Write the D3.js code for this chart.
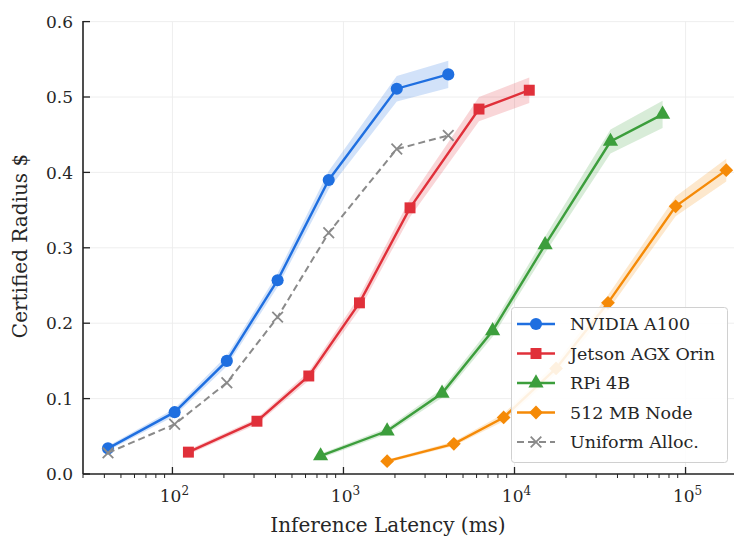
<!DOCTYPE html>
<html>
<head>
<meta charset="utf-8">
<script src="https://cdn.jsdelivr.net/npm/d3@7"></script>
<style>
  body { margin: 0; background: #fff; }
  svg text { font-family: "DejaVu Serif", serif; fill: #262626; }
</style>
</head>
<body>
<svg id="chart" width="734" height="537"></svg>
<script>
// values
const seriesNames = ["NVIDIA A100", "Jetson AGX Orin", "RPi 4B", "512 MB Node", "Uniform Alloc."];

const a100Lat = [42, 103, 208, 412, 820, 2050, 4100];
const a100Rad = [0.034, 0.082, 0.150, 0.257, 0.390, 0.511, 0.530];
const a100Err = [0.003, 0.005, 0.007, 0.009, 0.012, 0.017, 0.018];

const orinLat = [124, 312, 627, 1240, 2450, 6200, 12200];
const orinRad = [0.029, 0.070, 0.130, 0.227, 0.353, 0.484, 0.509];
const orinErr = [0.003, 0.004, 0.006, 0.009, 0.012, 0.016, 0.017];

const rpiLat = [735, 1800, 3770, 7450, 15100, 36400, 73400];
const rpiRad = [0.024, 0.057, 0.107, 0.190, 0.304, 0.441, 0.477];
const rpiErr = [0.003, 0.004, 0.006, 0.008, 0.011, 0.016, 0.018];

const nodeLat = [1800, 4420, 8640, 17500, 35200, 87500, 173000];
const nodeRad = [0.017, 0.040, 0.075, 0.140, 0.227, 0.355, 0.403];
const nodeErr = [0.002, 0.003, 0.005, 0.007, 0.010, 0.013, 0.015];

const uniLat = [42, 103, 208, 412, 820, 2050, 4100];
const uniRad = [0.028, 0.066, 0.121, 0.208, 0.320, 0.431, 0.449];

const yTicks = [0.0, 0.1, 0.2, 0.3, 0.4, 0.5, 0.6];
const xTicks = [1e2, 1e3, 1e4, 1e5];

const W = 734, H = 537;
const mLeft = 83, mRight = 734, mTop = 21.6, mBottom = 474;

const x = d3.scaleLog().domain([30, 192000]).range([mLeft, mRight]);
const y = d3.scaleLinear().domain([0, 0.6]).range([mBottom, mTop]);

const svg = d3.select("#chart");

const styles = [
  { color: "#1f6fe0", symbol: d3.symbolCircle, size: 115, rot: 0 },
  { color: "#e0303a", symbol: d3.symbolSquare, size: 120, rot: 0 },
  { color: "#3c9e3c", symbol: d3.symbolTriangle, size: 100, rot: 0 },
  { color: "#f58a07", symbol: d3.symbolSquare, size: 95, rot: 45 },
  { color: "#8a8a8a", symbol: d3.symbolX || d3.symbolCross, size: 75, rot: 0, dashed: true }
];

const series = [
  { lat: a100Lat, rad: a100Rad, err: a100Err },
  { lat: orinLat, rad: orinRad, err: orinErr },
  { lat: rpiLat, rad: rpiRad, err: rpiErr },
  { lat: nodeLat, rad: nodeRad, err: nodeErr },
  { lat: uniLat, rad: uniRad, err: null }
];

// grid
const grid = svg.append("g").attr("stroke", "#ececec").attr("stroke-width", 0.9);
grid.selectAll(".gy").data(yTicks.slice(1)).enter().append("line")
  .attr("x1", mLeft).attr("x2", mRight)
  .attr("y1", d => y(d)).attr("y2", d => y(d));
grid.selectAll(".gx").data(xTicks).enter().append("line")
  .attr("x1", d => x(d)).attr("x2", d => x(d))
  .attr("y1", mTop).attr("y2", mBottom);

// bands, lines, markers
function drawMarker(sel, st, px, py) {
  const p = sel.append("path")
    .attr("d", d3.symbol().type(st.symbol).size(st.size)())
    .attr("transform", `translate(${px},${py}) rotate(${st.rot})`);
  if (st.dashed) {
    p.attr("fill", "none").attr("stroke", st.color).attr("stroke-width", 1.8);
  } else {
    p.attr("fill", st.color);
  }
}

series.forEach((s, i) => {
  const st = styles[i];
  const pts = s.lat.map((v, j) => ({ x: v, y: s.rad[j], e: s.err ? s.err[j] : 0 }));
  if (s.err) {
    svg.append("path")
      .datum(pts)
      .attr("fill", st.color)
      .attr("fill-opacity", 0.2)
      .attr("d", d3.area().x(d => x(d.x)).y0(d => y(d.y - d.e)).y1(d => y(d.y + d.e)));
  }
  svg.append("path")
    .datum(pts)
    .attr("fill", "none")
    .attr("stroke", st.color)
    .attr("stroke-width", st.dashed ? 2 : 2.4)
    .attr("stroke-dasharray", st.dashed ? "7,4" : null)
    .attr("d", d3.line().x(d => x(d.x)).y(d => y(d.y)));
  const g = svg.append("g");
  pts.forEach(d => drawMarker(g, st, x(d.x), y(d.y)));
});

// axes
const ax = svg.append("g").attr("stroke", "#222");
ax.append("line").attr("x1", mLeft).attr("x2", mLeft).attr("y1", mTop - 0.5).attr("y2", mBottom).attr("stroke-width", 1.6);
ax.append("line").attr("x1", mLeft).attr("x2", mRight).attr("y1", mBottom).attr("y2", mBottom).attr("stroke-width", 1.6);

yTicks.forEach(t => {
  ax.append("line").attr("x1", mLeft).attr("x2", mLeft + 7).attr("y1", y(t)).attr("y2", y(t)).attr("stroke-width", 1.3);
  svg.append("text").attr("x", mLeft - 10).attr("y", y(t)).attr("dy", "0.36em")
    .attr("text-anchor", "end").style("font-size", "17px").text(t.toFixed(1));
});

const minor = [];
for (let e = 1; e <= 5; e++) for (let m = 2; m <= 9; m++) {
  const v = m * Math.pow(10, e);
  if (v >= 30 && v <= 192000) minor.push(v);
}
minor.forEach(t => {
  ax.append("line").attr("x1", x(t)).attr("x2", x(t)).attr("y1", mBottom).attr("y2", mBottom + 4).attr("stroke-width", 1);
});
xTicks.forEach(t => {
  ax.append("line").attr("x1", x(t)).attr("x2", x(t)).attr("y1", mBottom).attr("y2", mBottom - 7).attr("stroke-width", 1.3);
  const tx = svg.append("text").attr("x", x(t) + 2).attr("y", 502)
    .attr("text-anchor", "middle").style("font-size", "17px");
  tx.append("tspan").text("10");
  tx.append("tspan").attr("dy", -7).style("font-size", "12px").text(Math.round(Math.log10(t)));
});

svg.append("text").attr("x", 388).attr("y", 532).attr("text-anchor", "middle")
  .style("font-size", "20px").text("Inference Latency (ms)");
svg.append("text").attr("transform", "translate(27,246) rotate(-90)").attr("text-anchor", "middle")
  .style("font-size", "20px").text("Certified Radius $");

// legend
const lg = svg.append("g");
lg.append("rect").attr("x", 511.5).attr("y", 307.5).attr("width", 216).attr("height", 155)
  .attr("rx", 3).attr("fill", "#fff").attr("fill-opacity", 0.88)
  .attr("stroke", "#d0d0d0").attr("stroke-width", 1);
seriesNames.forEach((name, i) => {
  const st = styles[i];
  const ly = 324 + i * 29.5;
  lg.append("line").attr("x1", 517).attr("x2", 555).attr("y1", ly).attr("y2", ly)
    .attr("stroke", st.color).attr("stroke-width", st.dashed ? 2 : 2.4)
    .attr("stroke-dasharray", st.dashed ? "7,4" : null);
  drawMarker(lg, st, 536, ly);
  lg.append("text").attr("x", 570).attr("y", ly).attr("dy", "0.36em")
    .style("font-size", "17.5px").text(name);
});
</script>
</body>
</html>
